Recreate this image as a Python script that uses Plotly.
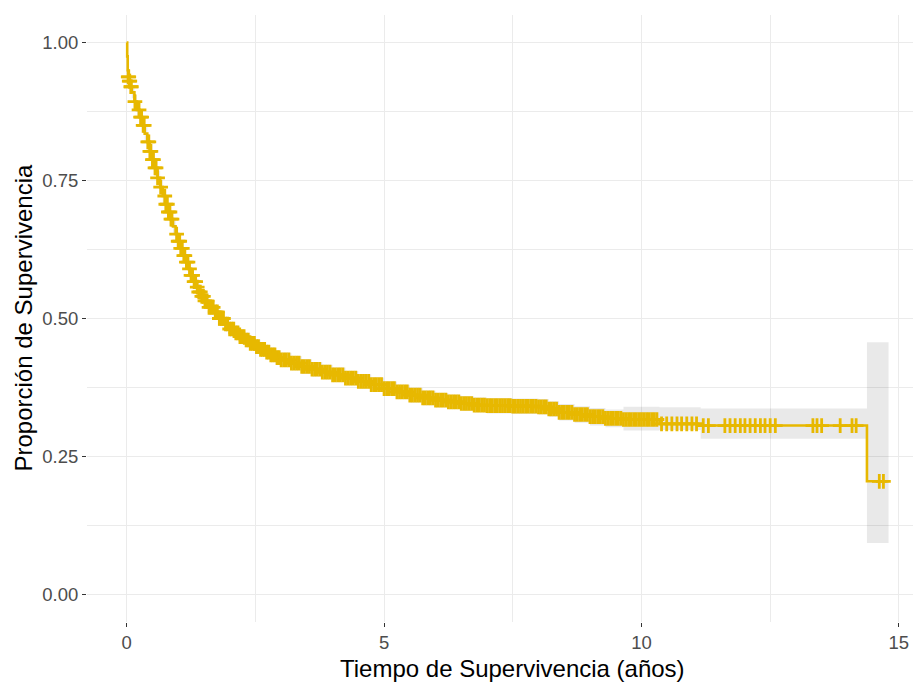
import numpy as np
import plotly.graph_objects as go

# Kaplan-Meier step curve (time in years, survival proportion)
times = [0.00, 0.01, 0.02, 0.03, 0.05, 0.07, 0.10, 0.15, 0.20, 0.25, 0.30, 0.35, 0.40, 0.45, 0.50,
         0.55, 0.60, 0.65, 0.70, 0.75, 0.80, 0.85, 0.90, 0.95, 1.00, 1.05, 1.10, 1.15, 1.20,
         1.25, 1.30, 1.35, 1.40, 1.45, 1.50, 1.60, 1.70, 1.80, 1.90, 2.00, 2.10, 2.20, 2.30,
         2.40, 2.50, 2.60, 2.70, 2.80, 2.90, 3.00, 3.20, 3.40, 3.60, 3.80, 4.00, 4.25, 4.50,
         4.75, 5.00, 5.25, 5.50, 5.75, 6.00, 6.25, 6.50, 6.75, 7.00, 7.50, 8.00, 8.20, 8.40,
         8.70, 9.00, 9.30, 9.65, 10.35, 11.15, 14.38, 14.80]
surv = [1.000, 0.975, 0.950, 0.938, 0.930, 0.920, 0.910, 0.893, 0.878, 0.865, 0.850, 0.835, 0.820, 0.803, 0.788,
        0.773, 0.755, 0.738, 0.722, 0.707, 0.693, 0.680, 0.667, 0.653, 0.640, 0.627, 0.614, 0.602, 0.590,
        0.578, 0.567, 0.557, 0.548, 0.540, 0.532, 0.520, 0.512, 0.500, 0.490, 0.481, 0.474, 0.467, 0.461,
        0.455, 0.449, 0.444, 0.439, 0.434, 0.429, 0.425, 0.419, 0.413, 0.408, 0.403, 0.398, 0.392, 0.386,
        0.380, 0.373, 0.367, 0.361, 0.356, 0.352, 0.349, 0.346, 0.343, 0.342, 0.341, 0.340, 0.336, 0.330,
        0.326, 0.322, 0.319, 0.317, 0.309, 0.306, 0.205, 0.205]
ci_low = [1.000, 0.968, 0.941, 0.928, 0.920, 0.910, 0.899, 0.881, 0.866, 0.852, 0.837, 0.822, 0.807, 0.790, 0.775,
          0.760, 0.742, 0.725, 0.709, 0.694, 0.680, 0.667, 0.654, 0.640, 0.627, 0.614, 0.601, 0.589, 0.577,
          0.565, 0.554, 0.544, 0.535, 0.527, 0.519, 0.507, 0.499, 0.487, 0.477, 0.468, 0.461, 0.454, 0.448,
          0.442, 0.436, 0.431, 0.426, 0.421, 0.416, 0.412, 0.406, 0.400, 0.395, 0.390, 0.385, 0.379, 0.373,
          0.367, 0.360, 0.354, 0.348, 0.343, 0.339, 0.336, 0.333, 0.330, 0.328, 0.327, 0.326, 0.322, 0.315,
          0.311, 0.306, 0.303, 0.297, 0.298, 0.282, 0.093, 0.093]
ci_up = [1.000, 0.982, 0.959, 0.948, 0.940, 0.930, 0.921, 0.905, 0.890, 0.878, 0.863, 0.848, 0.833, 0.816, 0.801,
         0.786, 0.768, 0.751, 0.735, 0.720, 0.706, 0.693, 0.680, 0.666, 0.653, 0.640, 0.627, 0.615, 0.603,
         0.591, 0.580, 0.570, 0.561, 0.553, 0.545, 0.533, 0.525, 0.513, 0.503, 0.494, 0.487, 0.480, 0.474,
         0.468, 0.462, 0.457, 0.452, 0.447, 0.442, 0.438, 0.432, 0.426, 0.421, 0.416, 0.411, 0.405, 0.399,
         0.393, 0.386, 0.380, 0.374, 0.369, 0.365, 0.362, 0.359, 0.357, 0.356, 0.355, 0.354, 0.350, 0.345,
         0.341, 0.338, 0.335, 0.340, 0.339, 0.337, 0.457, 0.457]

# censoring times (years)
censor_times = [
    0.03, 0.04, 0.05, 0.06, 0.08, 0.09, 0.16, 0.24, 0.27, 0.29, 0.32, 0.34, 0.41, 0.43,
    0.45, 0.47, 0.50, 0.52, 0.55, 0.57, 0.60, 0.66, 0.74, 0.76, 0.79, 0.81, 0.84, 0.86,
    0.88, 0.97, 1.00, 1.03, 1.05, 1.08, 1.11, 1.13, 1.16, 1.19, 1.22, 1.25, 1.28, 1.31,
    1.34, 1.37, 1.40, 1.43, 1.46, 1.49,
    1.52, 1.56, 1.60, 1.64, 1.68, 1.72, 1.76, 1.80, 1.84, 1.88, 1.92, 1.96,
    2.00, 2.04, 2.08, 2.12, 2.16, 2.20, 2.24, 2.28, 2.32, 2.36, 2.40, 2.44, 2.48,
    2.52, 2.56, 2.60, 2.64, 2.68, 2.72, 2.76, 2.80, 2.84, 2.88, 2.92, 2.96,
    3.00, 3.05, 3.10, 3.15, 3.20, 3.25, 3.30, 3.35, 3.40, 3.45, 3.50, 3.55, 3.60,
    3.65, 3.70, 3.75, 3.80, 3.85, 3.90, 3.95,
    4.00, 4.05, 4.10, 4.15, 4.20, 4.25, 4.30, 4.35, 4.40, 4.45, 4.50, 4.55, 4.60,
    4.65, 4.70, 4.75, 4.80, 4.85, 4.90, 4.95,
    5.00, 5.05, 5.10, 5.15, 5.20, 5.25, 5.30, 5.35, 5.40, 5.45, 5.50, 5.55, 5.60,
    5.65, 5.70, 5.75, 5.80, 5.85, 5.90, 5.95,
    6.00, 6.05, 6.10, 6.15, 6.20, 6.25, 6.30, 6.35, 6.40, 6.45, 6.50, 6.55, 6.60,
    6.65, 6.70, 6.75, 6.80, 6.85, 6.90, 6.95,
    7.00, 7.05, 7.10, 7.15, 7.20, 7.25, 7.30, 7.35, 7.40, 7.45, 7.50, 7.55, 7.60,
    7.65, 7.70, 7.75, 7.80, 7.85, 7.90, 7.95,
    8.00, 8.05, 8.10, 8.15, 8.20, 8.25, 8.30, 8.35, 8.40, 8.45, 8.50, 8.55, 8.60,
    8.65, 8.70, 8.75, 8.80, 8.85, 8.90, 8.95,
    9.00, 9.05, 9.10, 9.15, 9.20, 9.25, 9.30, 9.35, 9.40, 9.45, 9.50, 9.55, 9.60,
    9.65, 9.70, 9.75, 9.80, 9.85, 9.90, 9.95,
    10.00, 10.05, 10.10, 10.15, 10.20, 10.25, 10.30,
    10.39, 10.49, 10.59, 10.69, 10.78, 10.88, 10.98, 11.07, 11.20, 11.30, 11.62, 11.72,
    11.82, 11.92, 12.01, 12.11, 12.21, 12.31, 12.40, 12.50, 12.60, 13.33, 13.41, 13.50,
    13.86, 14.09, 14.17, 14.62, 14.70]

x_ticks = [0, 5, 10, 15]
y_ticks = [0.00, 0.25, 0.50, 0.75, 1.00]

COLOR = "#E7B800"
FONT = "Liberation Sans, Arial, sans-serif"

t_arr = np.array(times)
s_arr = np.array(surv)
idx = np.searchsorted(t_arr, np.array(censor_times), side="right") - 1
censor_surv = s_arr[idx]

fig = go.Figure()
fig.add_trace(go.Scatter(x=times, y=ci_low, mode="lines", line=dict(width=0, shape="hv"),
                         hoverinfo="skip", showlegend=False))
fig.add_trace(go.Scatter(x=times, y=ci_up, mode="lines", line=dict(width=0, shape="hv"),
                         fill="tonexty", fillcolor="rgba(0,0,0,0.085)",
                         hoverinfo="skip", showlegend=False))
fig.add_trace(go.Scatter(x=times, y=surv, mode="lines", line=dict(color=COLOR, width=2.6, shape="hv"),
                         showlegend=False))
fig.add_trace(go.Scatter(x=censor_times, y=censor_surv, mode="markers",
                         marker=dict(symbol="cross-thin", size=10.5, color=COLOR,
                                     line=dict(color=COLOR, width=2.8)),
                         showlegend=False))

grid = "#EBEBEB"
# the page body adds an 8px offset, so the figure is 8px smaller than the window
fig.update_layout(
    width=913, height=674,
    margin=dict(l=79, r=0, t=7, b=60),
    paper_bgcolor="white", plot_bgcolor="white",
    font=dict(family=FONT),
    showlegend=False,
    xaxis=dict(range=[-0.771, 15.43], tickvals=x_ticks, ticktext=[str(v) for v in x_ticks],
               showgrid=True, gridcolor=grid, gridwidth=1.3, zeroline=False, showline=False,
               ticks="outside", ticklen=4, tickwidth=1.1, tickcolor="#333333",
               tickfont=dict(size=18.5, color="#4D4D4D", family=FONT),
               minor=dict(dtick=2.5, tick0=0, showgrid=True, gridcolor=grid, gridwidth=1.3),
               automargin=False, fixedrange=True),
    yaxis=dict(range=[-0.05, 1.05], tickvals=y_ticks, ticktext=[f"{v:.2f}" for v in y_ticks],
               showgrid=True, gridcolor=grid, gridwidth=1.3, zeroline=False, showline=False,
               ticks="outside", ticklen=4, tickwidth=1.1, tickcolor="#333333",
               tickfont=dict(size=18.5, color="#4D4D4D", family=FONT),
               minor=dict(dtick=0.125, tick0=0, showgrid=True, gridcolor=grid, gridwidth=1.3),
               automargin=False, fixedrange=True),
    annotations=[
        dict(text="Tiempo de Supervivencia (años)", xref="paper", yref="paper",
             x=(512 - 87) / 834, y=-(668 - 622) / 607, xanchor="center", yanchor="middle",
             showarrow=False, font=dict(size=24, color="black", family=FONT)),
        dict(text="Proporción de Supervivencia", xref="paper", yref="paper",
             x=-(87 - 23) / 834, y=0.5, xanchor="center", yanchor="middle", textangle=-90,
             showarrow=False, font=dict(size=24, color="black", family=FONT)),
    ],
)

fig.write_html("out.html")
